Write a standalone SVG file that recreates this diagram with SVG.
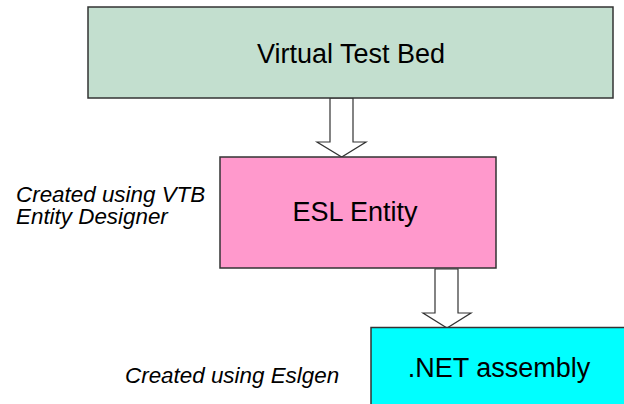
<svg xmlns="http://www.w3.org/2000/svg" width="624" height="404" viewBox="0 0 624 404">
<style>
.box{stroke:#333;stroke-width:1.5}
.arrow{fill:#fff;stroke:#333;stroke-width:1.2;stroke-linejoin:miter}
.t{font-family:"Liberation Sans",Arial,sans-serif;font-size:27px;fill:#000;text-anchor:middle}
.note{font-family:"Liberation Sans",Arial,sans-serif;font-size:22.4px;font-style:italic;fill:#000}
</style>
<rect width="624" height="404" fill="#fff"/>
<g id="connectors">
<polygon class="arrow" points="330,98 353,98 353,142 366,142 341.7,157 317,142 330,142"/>
<polygon class="arrow" points="435,269 458,269 458,313 471,313 447,328 423,313 435,313"/>
</g>
<g id="vtb">
<rect class="box" x="88" y="7" width="525" height="91" fill="#C3DFCF"/>
<text class="t" x="351" y="63">Virtual Test Bed</text>
</g>
<g id="esl">
<rect class="box" x="220" y="157" width="276" height="111" fill="#FF99CC"/>
<text class="t" x="355" y="221">ESL Entity</text>
</g>
<g id="net">
<rect class="box" x="371" y="327.5" width="270" height="90" fill="#00FFFF"/>
<text class="t" x="499" y="377">.NET assembly</text>
</g>
<g id="notes">
<text class="note" x="16" y="202">Created using VTB</text>
<text class="note" x="16" y="224">Entity Designer</text>
<text class="note" x="125" y="383">Created using Eslgen</text>
</g>
</svg>
